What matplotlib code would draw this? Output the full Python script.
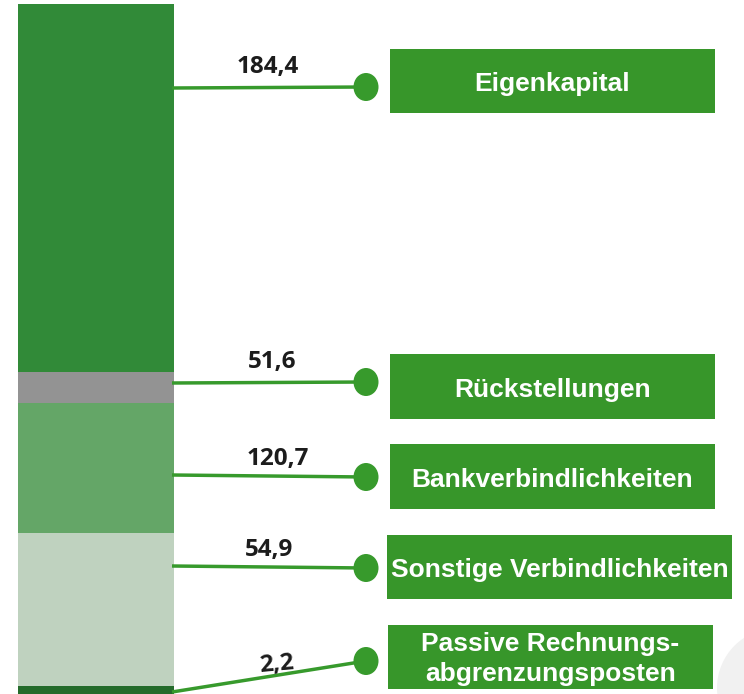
import matplotlib
matplotlib.use("Agg")
import matplotlib.pyplot as plt
from matplotlib.patches import Ellipse, Rectangle, Circle

# ---- data (top of the stack first) ---------------------------------------
categories = ["Eigenkapital", "Rückstellungen", "Bankverbindlichkeiten",
              "Sonstige Verbindlichkeiten", "Passive Rechnungs-\nabgrenzungsposten"]
values = [184.4, 51.6, 120.7, 54.9, 2.2]
# segment heights as drawn in the picture (bar is not to scale with values)
bar_heights = [36.8, 3.1, 13.0, 15.3, 0.8]
bar_colors = ["#318a38", "#939393", "#64a667", "#bfd2bf", "#246b2b"]

C_BOX = "#37962a"
C_LINE = "#379a2c"
C_TEXT = "#1c1c1c"

# ---- layout (pixels, origin top-left) -----------------------------------
W, H = 744, 694
line_y_bar = [88, 383, 475, 566, 692]
dot_y = [87, 382, 477, 568, 661]
dot_x = 366
label_x = [268, 272.5, 277.5, 269.5, 277]
label_base = [73, 368, 465, 556, 670]
label_rot = [0, 0, 0, 0, 5]
boxes = [(390, 49, 715, 113), (390, 354, 715, 419), (390, 444, 715, 509),
         (387, 535, 732, 599), (388, 625, 713, 689)]

fig = plt.figure(figsize=(W / 100, H / 100), dpi=100)

# stacked bar
axb = fig.add_axes([18 / W, 0, 156 / W, 690 / H])
bottom = 0
for h, c in zip(bar_heights[::-1], bar_colors[::-1]):
    axb.bar(0, h, bottom=bottom, width=1.0, color=c, linewidth=0)
    bottom += h
axb.set_xlim(-0.5, 0.5)
axb.set_ylim(0, sum(bar_heights))
axb.axis("off")

# annotation layer in pixel space
ax = fig.add_axes([0, 0, 1, 1])
ax.set_xlim(0, W)
ax.set_ylim(H, 0)
ax.axis("off")
ax.patch.set_visible(False)

ax.add_patch(Circle((777, 688), 60, color="#f1f1f1", linewidth=0, zorder=0))

for i, cat in enumerate(categories):
    ax.plot([172, dot_x], [line_y_bar[i], dot_y[i]], color=C_LINE,
            linewidth=2.5, solid_capstyle="butt", zorder=2)
    ax.add_patch(Ellipse((dot_x, dot_y[i]), 25, 28, color=C_LINE,
                         linewidth=0, zorder=3))
    txt = f"{values[i]:.1f}".replace(".", ",")
    ax.text(label_x[i], label_base[i], txt, ha="center", va="baseline",
            fontsize=17.5, fontweight="bold", family="Open Sans",
            color=C_TEXT, rotation=label_rot[i], rotation_mode="anchor",
            zorder=4)

    x0, y0, x1, y1 = boxes[i]
    ax.add_patch(Rectangle((x0, y0), x1 - x0, y1 - y0, color=C_BOX,
                           linewidth=0, zorder=2))
    cx = (x0 + x1) / 2
    lines = cat.split("\n")
    if len(lines) == 1:
        bases = [(y0 + y1) / 2 + 10]
    else:
        bases = [651, 681]
    for ln, b in zip(lines, bases):
        ax.text(cx, b, ln, ha="center", va="baseline", fontsize=19,
                fontweight="bold", family="Liberation Sans", color="white",
                zorder=4)

fig.savefig("out.png", dpi=100, facecolor="white")
